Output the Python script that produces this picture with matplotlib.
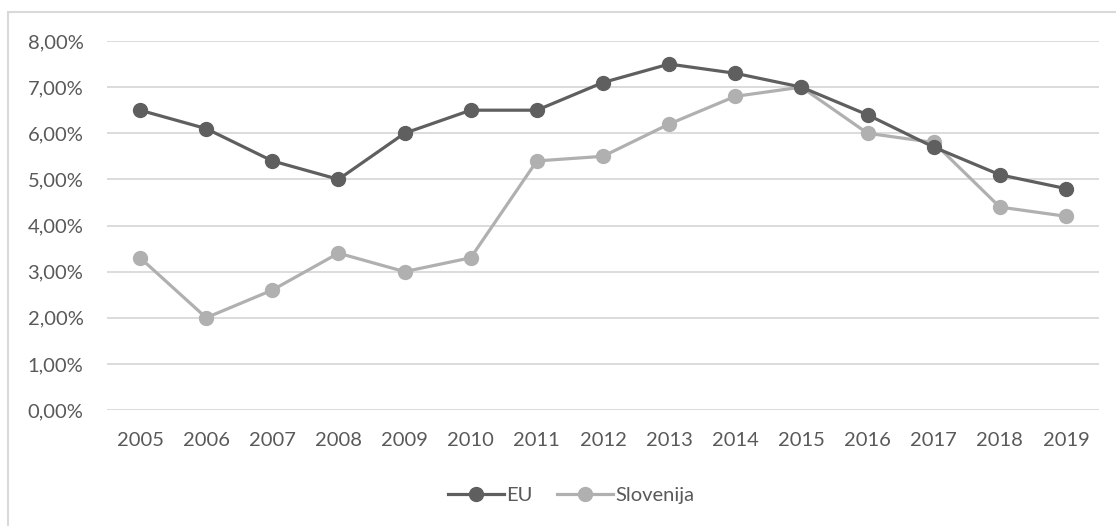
import matplotlib.pyplot as plt
from matplotlib.patches import Rectangle
from matplotlib.ticker import FuncFormatter

years = [2005, 2006, 2007, 2008, 2009, 2010, 2011, 2012, 2013, 2014, 2015, 2016, 2017, 2018, 2019]
eu = [6.5, 6.1, 5.4, 5.0, 6.0, 6.5, 6.5, 7.1, 7.5, 7.3, 7.0, 6.4, 5.7, 5.1, 4.8]
slovenija = [3.3, 2.0, 2.6, 3.4, 3.0, 3.3, 5.4, 5.5, 6.2, 6.8, 7.0, 6.0, 5.8, 4.4, 4.2]

TEXT = "#595959"
GRID = "#d9d9d9"

plt.rcParams['font.family'] = ['Lato', 'DejaVu Sans']

fig = plt.figure(figsize=(11.16, 5.26), dpi=100)
# chart frame, right and bottom edges fall outside the image
fig.patches.append(Rectangle((8 / 1116, -10 / 526), 1200 / 1116, 524 / 526,
                             transform=fig.transFigure, fill=False,
                             edgecolor=GRID, linewidth=1.5))

ax = fig.add_axes([107 / 1116, 1 - 410 / 526, 992 / 1116, 369 / 526])
x = list(range(len(years)))
ax.plot(x, eu, color="#5f5f5f", lw=2.3, marker="o", ms=10, label="EU", zorder=3)
ax.plot(x, slovenija, color="#b0b0b0", lw=2.3, marker="o", ms=10, label="Slovenija", zorder=2)

ax.set_xlim(-0.5, len(years) - 0.5)
ax.set_ylim(0, 8)
ax.set_yticks(range(0, 9))
ax.yaxis.set_major_formatter(FuncFormatter(lambda v, p: f"{v:.2f}%".replace(".", ",")))
ax.set_xticks(x)
ax.set_xticklabels([str(y) for y in years])

ax.grid(axis="y", color=GRID, lw=1.3)
ax.set_axisbelow(True)
for s in ax.spines.values():
    s.set_visible(False)
ax.tick_params(length=0, labelsize=14.5, colors=TEXT)
ax.tick_params(axis="y", pad=17)
ax.tick_params(axis="x", pad=16)

leg = fig.legend(loc="center", bbox_to_anchor=(571 / 1116, 1 - 495 / 526), ncol=2,
                 frameon=False, fontsize=14.5, handlelength=2.8, columnspacing=1.2,
                 handletextpad=0.1)
for t in leg.get_texts():
    t.set_color(TEXT)

fig.savefig("out.png", dpi=100)
